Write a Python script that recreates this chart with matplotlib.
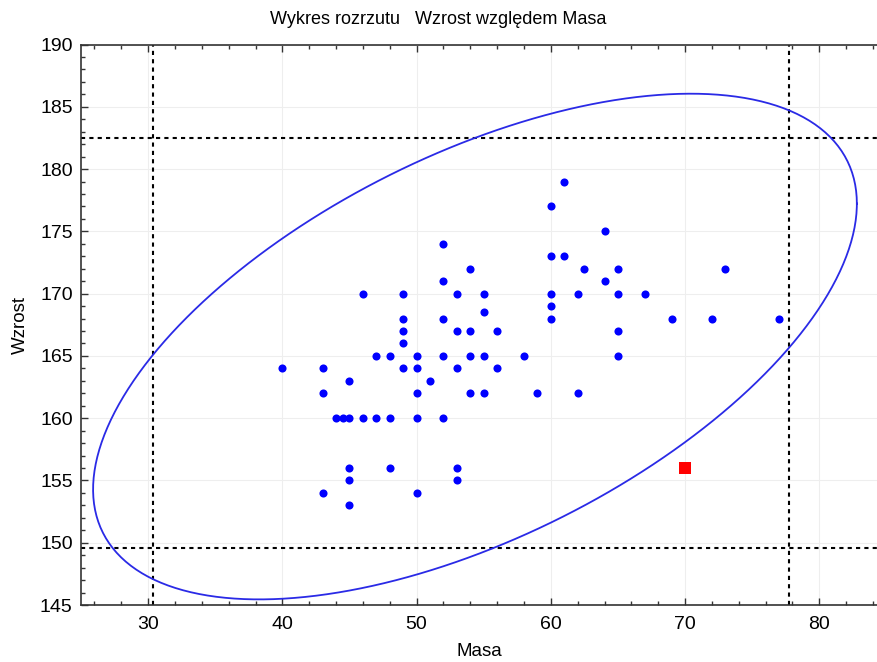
import numpy as np
import matplotlib
matplotlib.use("Agg")
import matplotlib.pyplot as plt
from matplotlib.ticker import MultipleLocator

plt.rcParams['font.family'] = ['Liberation Sans', 'DejaVu Sans']

# scatter data: Masa (x) vs Wzrost (y)
masa = [40, 43, 43, 43, 44, 44.5, 45, 45, 45, 45, 45,
        46, 46, 47, 47, 48, 48, 48,
        49, 49, 49, 49, 49, 50, 50, 50, 50, 50, 51,
        52, 52, 52, 52, 52, 53, 53, 53, 53, 53,
        54, 54, 54, 54, 55, 55, 55, 55, 56, 56, 58, 59,
        60, 60, 60, 60, 60, 61, 61, 62, 62, 62.5, 64, 64,
        65, 65, 65, 65, 67, 69, 72, 73, 77]
wzrost = [164, 164, 162, 154, 160, 160, 163, 160, 156, 155, 153,
          170, 160, 165, 160, 165, 160, 156,
          170, 168, 167, 166, 164, 165, 164, 162, 160, 154, 163,
          174, 171, 168, 165, 160, 170, 167, 164, 156, 155,
          172, 167, 165, 162, 170, 168.5, 165, 162, 167, 164, 165, 162,
          177, 173, 170, 169, 168, 179, 173, 170, 162, 172, 175, 171,
          172, 170, 167, 165, 170, 168, 168, 172, 168]

# outlier point
odd_masa = [70]
odd_wzrost = [156]

# reference lines (dotted)
x_lines = [30.35, 77.75]
y_lines = [149.55, 182.5]

# ellipse: centre, half-extents, correlation
ell_cx, ell_cy = 54.35, 165.75
ell_ax, ell_ay = 28.45, 20.3
ell_r = 0.565

fig = plt.figure(figsize=(8.77, 6.62), dpi=100)
ax = fig.add_axes([81 / 877, 1 - 605 / 662, 1 - 81 / 877, (605 - 44.5) / 662])

ax.set_xlim(25, 84.3)
ax.set_ylim(145, 190)
ax.xaxis.set_major_locator(MultipleLocator(10))
ax.xaxis.set_minor_locator(MultipleLocator(2))
ax.yaxis.set_major_locator(MultipleLocator(5))
ax.yaxis.set_minor_locator(MultipleLocator(1))
ax.tick_params(which='both', direction='in', top=True, right=False,
               labelsize=14, color='#333333')
ax.tick_params(which='major', length=5, width=1)
ax.tick_params(which='minor', length=3, width=1)
ax.tick_params(axis='x', pad=8)
ax.tick_params(axis='y', pad=6)
ax.grid(True, which='major', color='#eeeeee', linewidth=0.8)
ax.set_axisbelow(True)
for s in ['left', 'bottom', 'top']:
    ax.spines[s].set_color('#333333')
    ax.spines[s].set_linewidth(1.2)
ax.spines['right'].set_visible(False)

for xv in x_lines:
    ax.axvline(xv, color='black', linestyle=(0, (2, 2)), linewidth=1.5)
for yv in y_lines:
    ax.axhline(yv, color='black', linestyle=(0, (2, 2)), linewidth=1.5)

t = np.linspace(0, 2 * np.pi, 400)
phi = np.arccos(ell_r)
ax.plot(ell_cx + ell_ax * np.cos(t), ell_cy + ell_ay * np.cos(t - phi),
        color='#2a2ae6', linewidth=1.3)

ax.scatter(masa, wzrost, s=34, color='#0000ff', zorder=3, linewidths=0)
ax.scatter(odd_masa, odd_wzrost, s=85, marker='s', color='#ff0000', zorder=3, linewidths=0)

ax.set_xlabel('Masa', fontsize=13.5, labelpad=7)
ax.set_ylabel('Wzrost', fontsize=13.5, labelpad=8)
fig.text(0.5, 1 - 20 / 662, 'Wykres rozrzutu   Wzrost względem Masa',
         ha='center', va='center', fontsize=13)

fig.savefig('out.png', dpi=100)
